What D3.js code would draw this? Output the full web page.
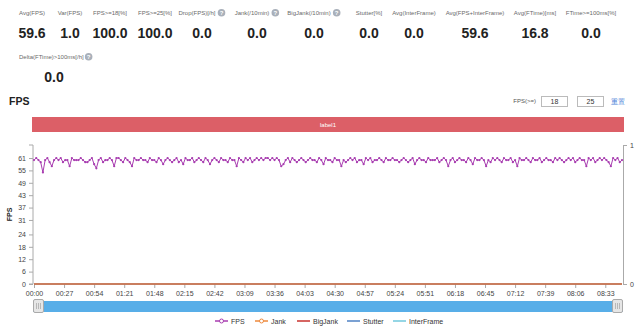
<!DOCTYPE html>
<html><head><meta charset="utf-8">
<script src="https://cdn.jsdelivr.net/npm/d3@7/dist/d3.min.js"></script>
<style>
body{margin:0;background:#fff;}
svg{display:block;font-family:"Liberation Sans",Arial,sans-serif;}
</style></head>
<body><svg id="c" width="640" height="328"></svg>
<script>
// ---- data ----
const statLabels = ["Avg(FPS)","Var(FPS)","FPS>=18[%]","FPS>=25[%]","Drop(FPS)[/h]","Jank(/10min)","BigJank(/10min)","Stutter[%]","Avg(InterFrame)","Avg(FPS+InterFrame)","Avg(FTime)[ms]","FTime>=100ms[%]"];
const statValues = ["59.6","1.0","100.0","100.0","0.0","0.0","0.0","0.0","0.0","59.6","16.8","0.0"];
const statHelp = [false,false,false,false,true,true,true,false,false,false,false,false];
const stat2Label = "Delta(FTime)>100ms[/h]";
const stat2Value = "0.0";
const sampleIntervalSec = 2;
const fpsValues = [
60,61,60,59,54,60,61,59,57,60, 61,60,61,59,60,60,57,61,60,60, 60,61,60,59,59,60,61,58,56,60, 61,59,60,60,61,60,57,61,61,60, 59,61,60,59,57,61,60,60,61,60,
60,59,61,60,60,59,61,60,58,60, 61,60,59,60,61,59,60,58,61,60, 60,61,59,60,61,60,59,61,60,58, 60,61,60,59,61,60,60,59,61,60, 60,57,61,60,59,61,60,61,59,60,
61,60,61,60,61,61,60,61,60,61, 60,57,58,60,61,59,61,60,59,60, 61,60,59,60,61,60,60,59,61,60, 58,61,60,60,59,61,60,60,57,60, 59,60,61,60,61,59,60,60,58,61,
60,61,59,60,60,61,60,59,61,60, 60,61,60,60,59,60,61,60,59,60, 61,58,60,61,60,60,59,61,60,60, 60,61,59,60,61,60,57,60,61,59, 60,61,60,60,59,61,60,58,61,60,
60,61,60,57,60,59,61,60,61,60, 59,61,60,60,61,59,60,57,61,60, 60,61,60,59,61,60,60,61,59,60, 61,60,60,59,61,60,61,60,59,60, 61,60,61,59,60,61,60,60,57,61,
60,61,59,60,61,60,61,60,59,57, 61,60,61,59,60];
const jankValues = fpsValues.map(()=>0);
const yTickValues = [0,6,12,18,24,31,37,43,49,55,61];
const xTickLabels = ["00:00","00:27","00:54","01:21","01:48","02:15","02:42","03:09","03:36","04:03","04:30","04:57","05:24","05:51","06:18","06:45","07:12","07:39","08:06","08:33"];
const xTickSeconds = [0,27,54,81,108,135,162,189,216,243,270,297,324,351,378,405,432,459,486,513];
const legendNames = ["FPS","Jank","BigJank","Stutter","InterFrame"];
const legendColors = ["#a83db0","#ee8a3c","#c8322e","#4f82c4","#72c8dc"];

// ---- draw ----
const svg = d3.select("#c");
const statX = [32,70,110,155,202,257,314,369,414,475,535,591];
statLabels.forEach((l,i)=>{
  const g = svg.append("g");
  const off = statHelp[i] ? -5 : 0;
  const t = g.append("text").attr("x",statX[i]+off).attr("y",15).attr("text-anchor","middle")
    .attr("font-size",6).attr("fill","#6a6a6a").text(l);
  if(statHelp[i]){
    const w = t.node().getComputedTextLength();
    const cx = statX[i]+off+w/2+6;
    g.append("circle").attr("cx",cx).attr("cy",12.8).attr("r",3.8).attr("fill","#a9b0ba");
    g.append("text").attr("x",cx).attr("y",15).attr("text-anchor","middle").attr("font-size",6).attr("font-weight","bold").attr("fill","#fff").text("?");
  }
  svg.append("text").attr("x",statX[i]).attr("y",38).attr("text-anchor","middle")
    .attr("font-size",14).attr("font-weight","bold").attr("fill","#222").text(statValues[i]);
});
{
  const t = svg.append("text").attr("x",19).attr("y",59).attr("font-size",6).attr("fill","#6a6a6a").text(stat2Label);
  const w = t.node().getComputedTextLength();
  svg.append("circle").attr("cx",19+w+5).attr("cy",56.8).attr("r",3.8).attr("fill","#a9b0ba");
  svg.append("text").attr("x",19+w+5).attr("y",59).attr("text-anchor","middle").attr("font-size",6).attr("font-weight","bold").attr("fill","#fff").text("?");
  svg.append("text").attr("x",54).attr("y",82).attr("text-anchor","middle").attr("font-size",14).attr("font-weight","bold").attr("fill","#222").text(stat2Value);
}
svg.append("text").attr("x",9).attr("y",105).attr("font-size",10.5).attr("font-weight","bold").attr("fill","#222").text("FPS");
svg.append("text").attr("x",536).attr("y",103).attr("text-anchor","end").attr("font-size",6).attr("fill","#555").text("FPS(>=)");
[["18",541],["25",577]].forEach(([v,x])=>{
  svg.append("rect").attr("x",x+0.5).attr("y",96.5).attr("width",26).attr("height",10).attr("fill","#fff").attr("stroke","#bbb");
  svg.append("text").attr("x",x+13.5).attr("y",104).attr("text-anchor","middle").attr("font-size",7).attr("fill","#333").text(v);
});
svg.append("text").attr("x",611).attr("y",104).attr("font-size",7).attr("fill","#4a7fd8").text("重置");
svg.append("rect").attr("x",32).attr("y",117).attr("width",592).attr("height",15).attr("fill","#dc5f67");
svg.append("text").attr("x",320).attr("y",127).attr("font-size",6).attr("fill","#fff").text("label1");

const L=33, R=623, T=145, B=284;
const x = d3.scaleLinear().domain([0,(fpsValues.length-1)*sampleIntervalSec]).range([L+1,R-1]);
const yTop = 61*(B-T)/(B-158);
const y = d3.scaleLinear().domain([0,yTop]).range([B,T]);
const yR = d3.scaleLinear().domain([0,1]).range([B,T]);

const styleAxisText = sel => sel.selectAll("text").attr("font-size",7).attr("fill","#444").attr("font-family","Liberation Sans, Arial");
const ax = svg.append("g").attr("transform",`translate(${L},0)`)
  .call(d3.axisLeft(y).tickValues(yTickValues).tickSize(4).tickPadding(3));
ax.select(".domain").attr("stroke","#aaa").attr("d",`M-4,${T}H0V${B}H-4`);
ax.selectAll(".tick line").attr("stroke","#aaa");
styleAxisText(ax);
const axR = svg.append("g").attr("transform",`translate(${R},0)`)
  .call(d3.axisRight(yR).tickValues([0,1]).tickFormat(d3.format("d")).tickSize(4).tickPadding(3));
axR.select(".domain").attr("stroke","#aaa");
axR.selectAll(".tick line").attr("stroke","#aaa");
styleAxisText(axR);
const axB = svg.append("g").attr("transform",`translate(0,${B})`)
  .call(d3.axisBottom(x).tickValues(xTickSeconds).tickFormat((d,i)=>xTickLabels[i]).tickSize(4).tickPadding(3));
axB.select(".domain").remove();
axB.selectAll(".tick line").attr("stroke","#aaa");
styleAxisText(axB);
svg.append("text").attr("transform",`translate(12,${(T+B)/2}) rotate(-90)`).attr("text-anchor","middle")
  .attr("font-size",7).attr("font-weight","bold").attr("fill","#222").text("FPS");

// zero series (InterFrame, Stutter, BigJank, Jank)
[4,3,2,1].forEach(k=>{
  svg.append("path").datum(jankValues).attr("fill","none").attr("stroke",legendColors[k]).attr("stroke-width",1.2)
    .attr("d",d3.line().x((d,i)=>x(i*sampleIntervalSec)).y(d=>yR(d)));
});
const lineFps = d3.line().x((d,i)=>x(i*sampleIntervalSec)).y(d=>y(d));
svg.append("path").datum(fpsValues).attr("fill","none").attr("stroke",legendColors[0]).attr("stroke-width",1).attr("d",lineFps);
svg.append("g").selectAll("circle").data(fpsValues).join("circle")
  .attr("cx",(d,i)=>x(i*sampleIntervalSec)).attr("cy",d=>y(d)).attr("r",1.1)
  .attr("fill",legendColors[0]);

// slider
svg.append("rect").attr("x",L).attr("y",301).attr("width",R-L).attr("height",11).attr("fill","#58aee8");
[L,R-11].forEach(hx=>{
  svg.append("rect").attr("x",hx+0.5).attr("y",299.5).attr("width",10).attr("height",13).attr("rx",1.5).attr("fill","#e6e6e6").attr("stroke","#aaa");
  [3.5,5.5,7.5].forEach(o=>svg.append("line").attr("x1",hx+o).attr("x2",hx+o).attr("y1",303).attr("y2",309).attr("stroke","#999").attr("stroke-width",0.6));
});

// legend
const legX = [215,255,297,347,393];
legendNames.forEach((n,i)=>{
  const g = svg.append("g");
  g.append("line").attr("x1",legX[i]).attr("x2",legX[i]+13).attr("y1",321).attr("y2",321).attr("stroke",legendColors[i]).attr("stroke-width",1.5);
  if(i<2) g.append("circle").attr("cx",legX[i]+6.5).attr("cy",321).attr("r",2).attr("fill","#fff").attr("stroke",legendColors[i]).attr("stroke-width",1);
  g.append("text").attr("x",legX[i]+16).attr("y",323.5).attr("font-size",7).attr("fill","#333").text(n);
});
</script></body></html>
